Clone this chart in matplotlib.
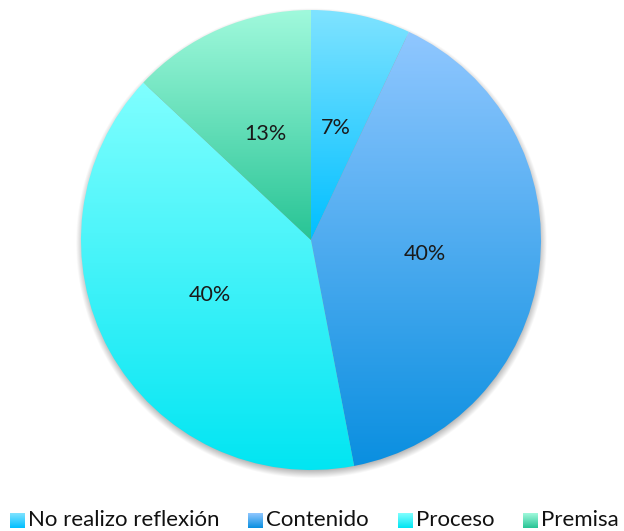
import numpy as np
import matplotlib.pyplot as plt
from matplotlib.colors import to_rgb

plt.rcParams['font.family'] = ['Lato', 'DejaVu Sans']

categories = ['No realizo reflexión', 'Contenido', 'Proceso', 'Premisa']
shares = [7, 40, 40, 13]
# gradient stops (top, bottom) for each slice
top_colors = ['#7fe3ff', '#90c7ff', '#80ffff', '#a0f9dc']
bottom_colors = ['#00bfff', '#0a8fe0', '#00e5f2', '#28c495']


def gradient(top, bottom, n=256):
    t = np.linspace(0, 1, n)[:, None, None]
    a = np.array(to_rgb(top))[None, None, :]
    b = np.array(to_rgb(bottom))[None, None, :]
    return a * (1 - t) + b * t


fig = plt.figure(figsize=(6.24, 5.31), dpi=100)
W, H = 624, 531
cx, cy, r = 311, 240, 230
lim = 1.1
ax = fig.add_axes([(cx - r * lim) / W, (H - cy - r * lim) / H,
                   2 * r * lim / W, 2 * r * lim / H])

# soft drop shadow under the pie
g = np.linspace(-lim, lim, 600)
xx, yy = np.meshgrid(g, g[::-1])
d = np.hypot(xx, yy + 0.014)
blur = 0.024
alpha = 0.38 * np.clip((1 + blur - d) / (2 * blur), 0, 1)
shadow = np.zeros((600, 600, 4))
shadow[..., 3] = alpha
ax.imshow(shadow, extent=(-lim, lim, -lim, lim), zorder=0)

wedges, texts, autotexts = ax.pie(
    shares, startangle=90, counterclock=False, radius=1,
    autopct='%1.0f%%', pctdistance=0.5,
    wedgeprops=dict(facecolor='none', edgecolor='none'),
    textprops=dict(fontsize=15.5, color='#1a1a1a'))

for w, top, bot in zip(wedges, top_colors, bottom_colors):
    v = w.get_path().vertices
    x0, x1 = v[:, 0].min(), v[:, 0].max()
    y0, y1 = v[:, 1].min(), v[:, 1].max()
    im = ax.imshow(gradient(top, bot), extent=(x0, x1, y0, y1),
                   aspect='auto', zorder=1, interpolation='bilinear')
    im.set_clip_path(w)

for t in autotexts:
    t.set_zorder(3)

ax.set_xlim(-lim, lim)
ax.set_ylim(-lim, lim)
ax.set_aspect('auto')
ax.axis('off')

# legend row along the bottom: gradient swatch followed by its label
legend_x = [10, 248, 398, 523]
swatch = 15
for x, label, top, bot in zip(legend_x, categories, top_colors, bottom_colors):
    sax = fig.add_axes([x / W, (H - 528) / H, swatch / W, swatch / H])
    sax.imshow(gradient(top, bot, 64), aspect='auto', interpolation='bilinear')
    sax.axis('off')
    fig.text((x + swatch + 3) / W, (H - 526) / H, label, fontsize=16,
             color='#111111', ha='left', va='baseline')

fig.savefig('out.png', dpi=100)
